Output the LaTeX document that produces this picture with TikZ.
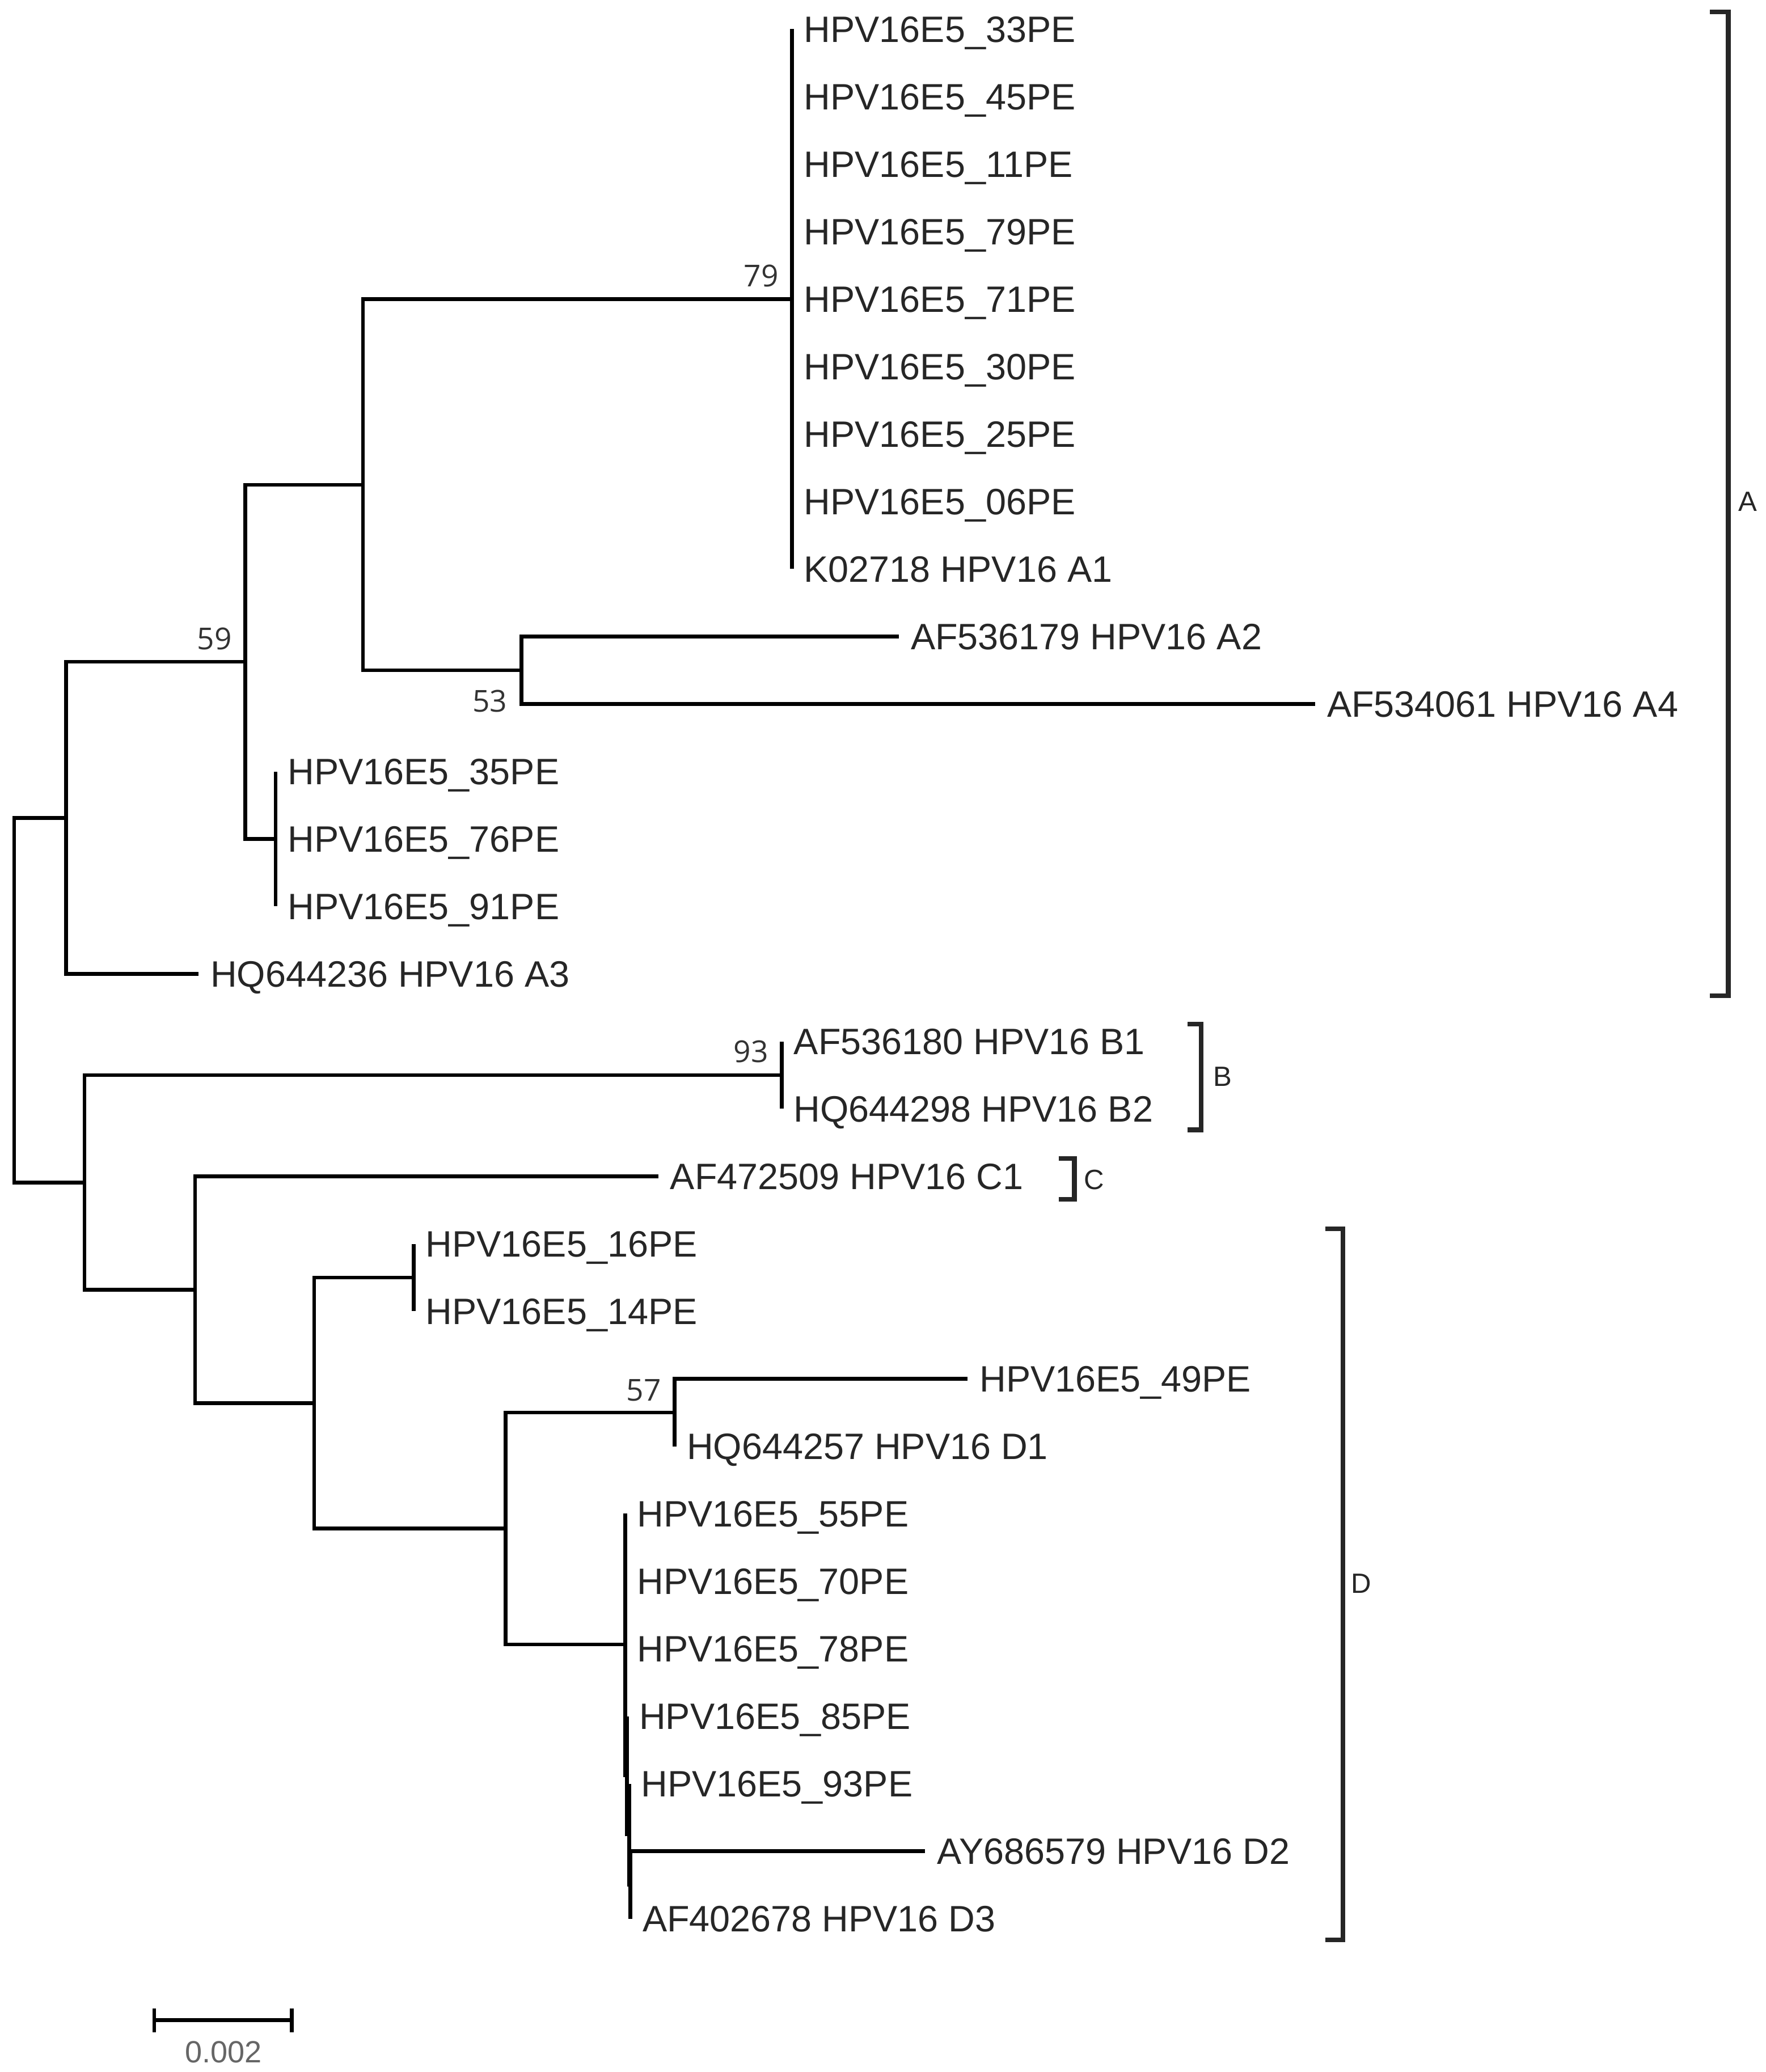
\documentclass[tikz,border=0pt]{standalone}
\usepackage{fontspec}
\setmainfont{Liberation Sans}
\newfontfamily\bsfont{Open Sans}
\usepackage{tikz}
\usetikzlibrary{positioning}
\tikzset{
  rama/.style={line width=0.8pt,black},
  hoja/.style={anchor=west,inner xsep=0.085cm,inner ysep=0pt,text height=5.65pt,text depth=0pt,font=\fontsize{7.9}{9}\selectfont,text=black!85},
  boot/.style={inner sep=0pt,text height=4.6pt,text depth=0pt,font=\bsfont\fontsize{6.5}{7}\selectfont,text=black!80},
  corchete/.style={line width=1pt,black!85,line join=miter},
  letra/.style={inner sep=0pt,text height=4.3pt,text depth=0pt,font=\fontsize{6}{7}\selectfont,text=black!85},
  escala/.style={inner sep=0pt,text height=4.7pt,text depth=0pt,font=\fontsize{6.6}{7}\selectfont,text=black!60}
}
\begin{document}
\begin{tikzpicture}[x=0.01cm,y=-0.01cm]
\useasboundingbox (0,0) rectangle (1336,1568);
% nodos internos
\coordinate (raiz) at (10.7,756.9);
\coordinate (nA) at (50,618.9);
\coordinate (n59) at (185.6,500.8);
\coordinate (nA1) at (274.7,366.8);
\coordinate (n79) at (599.2,226.3);
\coordinate (n53) at (394.5,507.2);
\coordinate (n35) at (208.6,634.8);
\coordinate (nBCD) at (64,894.8);
\coordinate (nB) at (591.5,813.6);
\coordinate (nC) at (147.7,976.0);
\coordinate (nD) at (237.7,1061.8);
\coordinate (n16) at (313,966.8);
\coordinate (nD1) at (382.5,1156.7);
\coordinate (n57) at (510.5,1068.9);
\coordinate (n1) at (473,1244.5);
\coordinate (n2) at (474.5,1343.4);
\coordinate (n3) at (476,1388.1);
\coordinate (n4) at (477,1426.4);
% hojas
\node[hoja] (h33) at (599.2,22.0) {HPV16E5\_33PE};
\node[hoja] (h45) at (599.2,73.1) {HPV16E5\_45PE};
\node[hoja] (h11) at (599.2,124.1) {HPV16E5\_11PE};
\node[hoja] (h79) at (599.2,175.2) {HPV16E5\_79PE};
\node[hoja] (h71) at (599.2,226.3) {HPV16E5\_71PE};
\node[hoja] (h30) at (599.2,277.4) {HPV16E5\_30PE};
\node[hoja] (h25) at (599.2,328.4) {HPV16E5\_25PE};
\node[hoja] (h06) at (599.2,379.5) {HPV16E5\_06PE};
\node[hoja] (hA1) at (599.2,430.6) {K02718 HPV16 A1};
\node[hoja] (hA2) at (680,481.6) {AF536179 HPV16 A2};
\node[hoja] (hA4) at (995,532.7) {AF534061 HPV16 A4};
\node[hoja] (h35) at (208.6,583.8) {HPV16E5\_35PE};
\node[hoja] (h76) at (208.6,634.8) {HPV16E5\_76PE};
\node[hoja] (h91) at (208.6,685.9) {HPV16E5\_91PE};
\node[hoja] (hA3) at (150,737.0) {HQ644236 HPV16 A3};
\node[hoja] (hB1) at (591.5,788.1) {AF536180 HPV16 B1};
\node[hoja] (hB2) at (591.5,839.1) {HQ644298 HPV16 B2};
\node[hoja] (hC1) at (498,890.2) {AF472509 HPV16 C1};
\node[hoja] (h16) at (313,941.3) {HPV16E5\_16PE};
\node[hoja] (h14) at (313,992.3) {HPV16E5\_14PE};
\node[hoja] (h49) at (732,1043.4) {HPV16E5\_49PE};
\node[hoja] (hD1) at (510.5,1094.5) {HQ644257 HPV16 D1};
\node[hoja] (h55) at (473,1145.5) {HPV16E5\_55PE};
\node[hoja] (h70) at (473,1196.6) {HPV16E5\_70PE};
\node[hoja] (h78) at (473,1247.7) {HPV16E5\_78PE};
\node[hoja] (h85) at (474.5,1298.8) {HPV16E5\_85PE};
\node[hoja] (h93) at (476,1349.8) {HPV16E5\_93PE};
\node[hoja] (hD2) at (700,1400.9) {AY686579 HPV16 D2};
\node[hoja] (hD3) at (477,1452.0) {AF402678 HPV16 D3};
% ramas
\draw[rama] (raiz) |- (nA) (raiz) |- (nBCD);
\draw[rama] (nA) |- (n59) (nA) |- (hA3.west);
\draw[rama] (n59) |- (nA1) (n59) |- (n35);
\draw[rama] (nA1) |- (n79) (nA1) |- (n53);
\draw[rama] (n79) |- (h33.west) (n79) |- (h45.west) (n79) |- (h11.west) (n79) |- (h79.west) (n79) |- (h71.west)
  (n79) |- (h30.west) (n79) |- (h25.west) (n79) |- (h06.west) (n79) |- (hA1.west);
\draw[rama] (n53) |- (hA2.west) (n53) |- (hA4.west);
\draw[rama] (n35) |- (h35.west) (n35) |- (h76.west) (n35) |- (h91.west);
\draw[rama] (nBCD) |- (nB) (nBCD) |- (nC);
\draw[rama] (nB) |- (hB1.west) (nB) |- (hB2.west);
\draw[rama] (nC) |- (hC1.west) (nC) |- (nD);
\draw[rama] (nD) |- (n16) (nD) |- (nD1);
\draw[rama] (n16) |- (h16.west) (n16) |- (h14.west);
\draw[rama] (nD1) |- (n57) (nD1) |- (n1);
\draw[rama] (n57) |- (h49.west) (n57) |- (hD1.west);
\draw[rama] (n1) |- (h55.west) (n1) |- (h70.west) (n1) |- (h78.west) (n1) |- (n2);
\draw[rama] (n2) |- (h85.west) (n2) |- (n3);
\draw[rama] (n3) |- (h93.west) (n3) |- (n4);
\draw[rama] (n4) |- (hD2.west) (n4) |- (hD3.west);
% soporte bootstrap
\node[boot,above left=0.085cm and 0.095cm of n79] (b79) {79};
\node[boot,above left=0.085cm and 0.095cm of n59] (b59) {59};
\node[boot,below left=0.148cm and 0.1cm of n53] (b53) {53};
\node[boot,above left=0.09cm and 0.095cm of nB] (b93) {93};
\node[boot,above left=0.08cm and 0.095cm of n57] (b57) {57};
% grupos
\draw[corchete] (1294,8.9) -- (1307.7,8.9) -- (1307.7,753.6) -- (1294,753.6);
\node[letra] (gA) at (1322.5,379.3) {A};
\draw[corchete] (898.7,775) -- (909,775) -- (909,855) -- (898.7,855);
\node[letra] (gB) at (925,814.5) {B};
\draw[corchete] (801,876.6) -- (813,876.6) -- (813,907.4) -- (801,907.4);
\node[letra] (gC) at (828,892.4) {C};
\draw[corchete] (1003,930) -- (1016,930) -- (1016,1468) -- (1003,1468);
\node[letra] (gD) at (1030,1198) {D};
% escala
\coordinate (e0) at (116.8,1528.8);
\coordinate (e1) at (220.7,1528.8);
\draw[rama] (e0) -- (e1);
\draw[rama] ([yshift=0.09cm]e0) -- ([yshift=-0.09cm]e0) ([yshift=0.09cm]e1) -- ([yshift=-0.09cm]e1);
\node[escala] (tesc) at (169,1552.7) {0.002};
\end{tikzpicture}
\end{document}
